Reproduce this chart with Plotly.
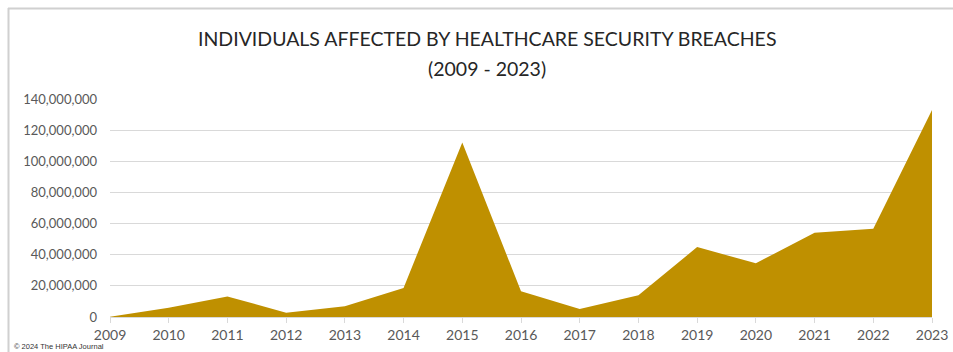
import plotly.graph_objects as go

years = [2009, 2010, 2011, 2012, 2013, 2014, 2015, 2016, 2017, 2018, 2019, 2020, 2021, 2022, 2023]
affected = [135000, 5900000, 13200000, 2800000, 6900000, 18700000, 112100000, 16500000,
            5100000, 14000000, 44900000, 34500000, 54100000, 56700000, 133000000]
y_ticks = [0, 20000000, 40000000, 60000000, 80000000, 100000000, 120000000, 140000000]
y_tick_labels = ["0", "20,000,000", "40,000,000", "60,000,000", "80,000,000",
                 "100,000,000", "120,000,000", "140,000,000"]

W, H = 953, 352
L, R, T, B = 110, 21, 99, 35
pw, ph = W - L - R, H - T - B

def px(x):
    return (x - L) / pw

def py(y):
    return (H - B - y) / ph

fig = go.Figure()
fig.add_trace(go.Scatter(
    x=years, y=affected, mode="lines", fill="tozeroy",
    line=dict(color="#BF9000", width=0), fillcolor="#BF9000",
    hoverinfo="x+y", showlegend=False,
))

font = "Lato, Calibri, Carlito, sans-serif"
fig.update_layout(
    width=W, height=H,
    margin=dict(l=L, r=R, t=T, b=B, autoexpand=False),
    paper_bgcolor="white", plot_bgcolor="white",
    font=dict(family=font, color="#595959", size=13),
    xaxis=dict(
        range=[2009, 2023], tickmode="array", tickvals=years,
        ticktext=[str(y) for y in years], automargin=False,
        showgrid=False, showline=True, linecolor="#d9d9d9", linewidth=1,
        ticks="outside", ticklen=5, tickcolor="#d9d9d9",
        tickfont=dict(size=14, color="#595959"), zeroline=False,
    ),
    yaxis=dict(
        range=[0, 140000000], tickmode="array", tickvals=y_ticks, ticktext=y_tick_labels,
        showgrid=True, gridcolor="#d9d9d9", gridwidth=1, zeroline=False, automargin=False,
        showline=False, ticks="", ticklabelstandoff=12,
        tickfont=dict(size=13, color="#595959"),
    ),
    annotations=[
        dict(text="INDIVIDUALS AFFECTED BY HEALTHCARE SECURITY BREACHES",
             xref="paper", yref="paper", x=px(487), y=py(38), showarrow=False,
             xanchor="center", yanchor="middle",
             font=dict(family=font, size=19.5, color="#262626")),
        dict(text="(2009 - 2023)",
             xref="paper", yref="paper", x=px(487), y=py(68), showarrow=False,
             xanchor="center", yanchor="middle",
             font=dict(family=font, size=19.5, color="#262626")),
        dict(text="© 2024 The HIPAA Journal",
             xref="paper", yref="paper", x=px(12), y=py(346), showarrow=False,
             xanchor="left", yanchor="middle",
             font=dict(family="Liberation Sans, Arial, sans-serif", size=7.5, color="#333333")),
    ],
    shapes=[
        dict(type="line", xref="paper", yref="paper", x0=px(8), x1=px(960),
             y0=py(8.5), y1=py(8.5), line=dict(color="#d0d0d0", width=2)),
        dict(type="line", xref="paper", yref="paper", x0=px(8.5), x1=px(8.5),
             y0=py(8), y1=py(360), line=dict(color="#d0d0d0", width=2)),
    ],
)

fig.write_html("out.html")
